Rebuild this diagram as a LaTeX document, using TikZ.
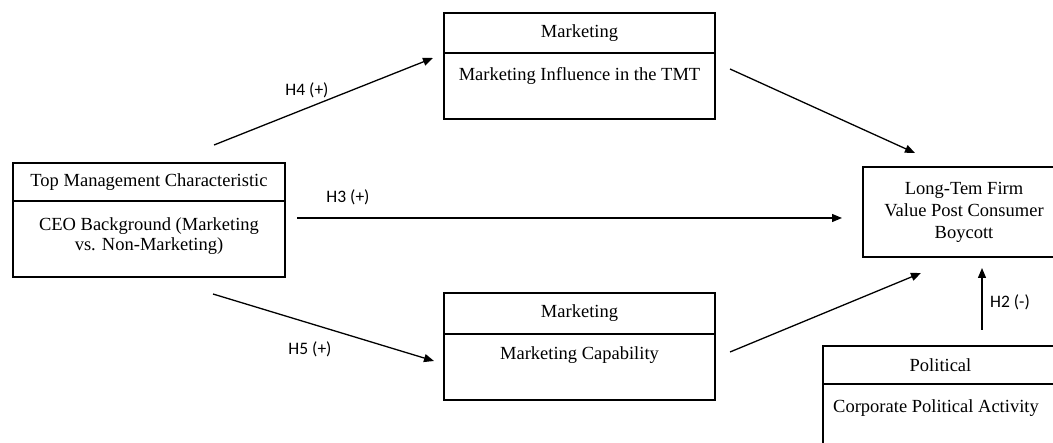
\documentclass[tikz,border=0pt]{standalone}
\usepackage{fontspec}
\setmainfont{Liberation Serif}
\newfontfamily\hypfont{Carlito}
\usetikzlibrary{arrows.meta,positioning}

\begin{document}
\begin{tikzpicture}[
  x=1pt, y=-1pt,
  >={Triangle[length=10pt,width=8pt]},
  font=\fontsize{18.5}{20}\selectfont,
  box/.style={draw=black, line width=1.6pt, inner sep=0pt, outer sep=0pt, align=center},
  hdr/.style={box, minimum height=39pt},
  bdy/.style={box, minimum height=66pt},
  btxt/.style={inner sep=0pt, align=center},
  link/.style={->, line width=1.3pt},
  hyp/.style={font=\hypfont\fontsize{17.5}{20}\selectfont, inner sep=0pt}
]
\useasboundingbox (0,0) rectangle (1053,443);
\clip (0,0) rectangle (1053,443);

% ==================== boxes ====================
% top management (left)
\node[hdr, minimum width=272pt, minimum height=38pt, anchor=north west] (tmc-h) at (13,163) {Top Management Characteristic};
\node[bdy, minimum width=272pt, minimum height=76pt, anchor=north] (tmc) at (tmc-h.south) {};
\node[btxt, anchor=north] (tmc-t) at (149,217) {CEO Background (Marketing\\vs. Non-Marketing)};

% marketing influence (top)
\node[hdr, minimum width=271pt, minimum height=40pt, anchor=north west] (mi-h) at (444,13) {Marketing};
\node[bdy, minimum width=271pt, anchor=north] (mi) at (mi-h.south) {};
\node[btxt, anchor=north] (mi-t) at (579.5,67) {Marketing Influence in the TMT};

% marketing capability (bottom)
\node[hdr, minimum width=271pt, minimum height=41pt, anchor=north west] (mc-h) at (444,293) {Marketing};
\node[bdy, minimum width=271pt, anchor=north] (mc) at (mc-h.south) {};
\node[btxt, anchor=north] (mc-t) at (579.5,346) {Marketing Capability};

% firm value (outcome)
\node[box, minimum width=202pt, minimum height=90pt, anchor=north west,
  font=\fontsize{18.5}{22}\selectfont] (ltv) at (863,167) {Long-Tem Firm\\Value Post Consumer\\Boycott};

% political activity (bottom right)
\node[hdr, minimum width=235pt, minimum height=38pt, anchor=north west] (pol-h) at (823,346) {Political};
\node[bdy, minimum width=235pt, minimum height=80pt, anchor=north] (pol) at (pol-h.south) {};
\node[btxt, anchor=north] (pol-t) at (936,399) {Corporate Political Activity};

% ==================== paths ====================
\coordinate (h4-s) at (214,145);  \coordinate (h4-e) at (433,58);
\coordinate (h3-s) at (297,218);  \coordinate (h3-e) at (842,218);
\coordinate (h5-s) at (213,294);  \coordinate (h5-e) at (434,361);
\coordinate (mi-s) at (730,69);   \coordinate (mi-e) at (915,153);
\coordinate (mc-s) at (730,352);  \coordinate (mc-e) at (921,273);
\coordinate (h2-s) at (982,330);  \coordinate (h2-e) at (982,268);

\draw[link] (h4-s) -- (h4-e);
\draw[link] (h3-s) -- (h3-e);
\draw[link] (h5-s) -- (h5-e);
\draw[link] (mi-s) -- (mi-e);
\draw[link] (mc-s) -- (mc-e);
\draw[link] (h2-s) -- (h2-e);

\node[hyp] (h4) at (307,90) {H4 (+)};
\node[hyp] (h3) at (348,197) {H3 (+)};
\node[hyp] (h5) at (310,349) {H5 (+)};
\node[hyp, anchor=west] (h2) at (990,302) {H2 (-)};

\end{tikzpicture}
\end{document}
